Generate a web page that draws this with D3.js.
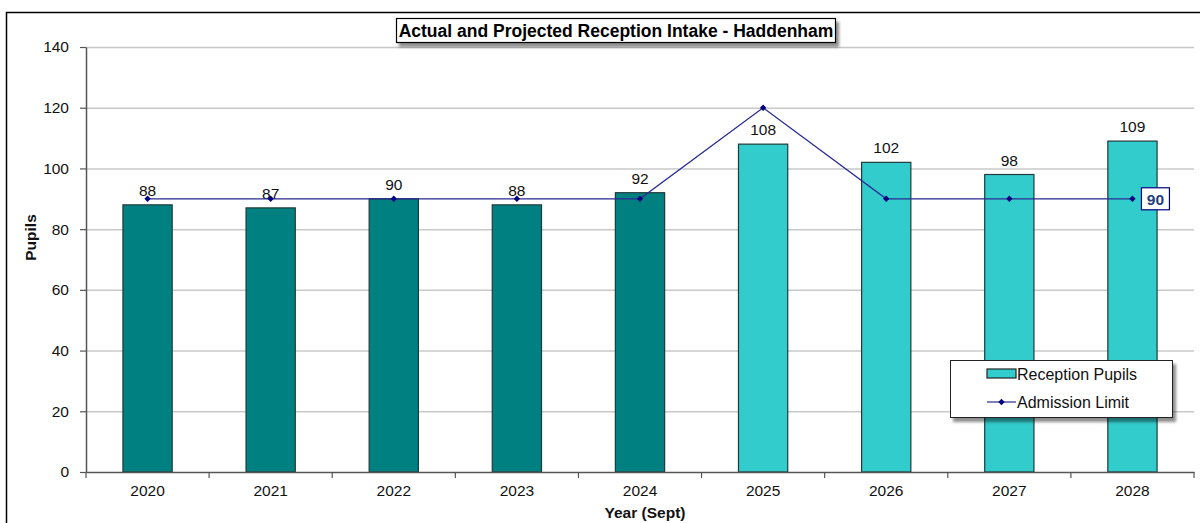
<!DOCTYPE html>
<html>
<head>
<meta charset="utf-8">
<script src="https://cdn.jsdelivr.net/npm/d3@7"></script>
<style>
  body { margin: 0; background: #fff; }
  svg { font-family: "Liberation Sans", Arial, sans-serif; }
</style>
</head>
<body>
<div id="chart"></div>
<script>
// data
const years = ["2020", "2021", "2022", "2023", "2024", "2025", "2026", "2027", "2028"];
const receptionPupils = [88, 87, 90, 88, 92, 108, 102, 98, 109];
const admissionLimit = [90, 90, 90, 90, 90, 120, 90, 90, 90];
const actualCount = 5; // first five years are actual, rest projected
const yTicks = [0, 20, 40, 60, 80, 100, 120, 140];

const W = 1200, H = 523;
const margin = {top: 47, right: 6, bottom: 51, left: 86};
const width = W - margin.left - margin.right;
const height = H - margin.top - margin.bottom;

const svg = d3.select("#chart").append("svg")
    .attr("width", W)
    .attr("height", H);

// shadow filter for title and legend boxes
const defs = svg.append("defs");
const f = defs.append("filter").attr("id", "shadow").attr("x", "-10%").attr("y", "-30%").attr("width", "130%").attr("height", "180%");
f.append("feOffset").attr("in", "SourceAlpha").attr("dx", 3).attr("dy", 4).attr("result", "off");
f.append("feGaussianBlur").attr("in", "off").attr("stdDeviation", 1.5).attr("result", "blur");
f.append("feComponentTransfer").attr("in", "blur").attr("result", "sh")
    .append("feFuncA").attr("type", "linear").attr("slope", 0.45);
const merge = f.append("feMerge");
merge.append("feMergeNode").attr("in", "sh");
merge.append("feMergeNode").attr("in", "SourceGraphic");

// outer chart frame (cut off on right and bottom)
svg.append("rect")
    .attr("x", 6.5).attr("y", 12.5)
    .attr("width", W + 10).attr("height", H + 10)
    .attr("fill", "none").attr("stroke", "#000").attr("stroke-width", 1.5);

const g = svg.append("g")
    .attr("transform", "translate(" + margin.left + "," + margin.top + ")");

const x = d3.scaleBand().domain(years).range([0, width]).paddingInner(0.6).paddingOuter(0.3);
const xOuter = d3.scaleBand().domain(years).range([0, width]);
const y = d3.scaleLinear().domain([0, 140]).range([height, 0]);

// gridlines
g.append("g")
    .selectAll("line").data(yTicks.filter(d => d > 0)).enter().append("line")
    .attr("x1", 0).attr("x2", width)
    .attr("y1", d => y(d) + 0.5).attr("y2", d => y(d) + 0.5)
    .attr("stroke", "#c8c8c8").attr("stroke-width", 1.5);

// y axis
const yAxis = g.append("g")
    .call(d3.axisLeft(y).tickValues(yTicks).tickSize(6).tickSizeOuter(0).tickPadding(11));
yAxis.select(".domain").attr("stroke", "#555").attr("stroke-width", 1.5);
yAxis.selectAll(".tick line").attr("stroke", "#555").attr("stroke-width", 1.2);
yAxis.selectAll("text").attr("font-size", 15.5).attr("fill", "#111");

// bars
g.selectAll(".bar").data(years).enter().append("rect")
    .attr("class", "bar")
    .attr("x", d => x(d))
    .attr("y", (d, i) => y(receptionPupils[i]))
    .attr("width", x.bandwidth())
    .attr("height", (d, i) => height - y(receptionPupils[i]))
    .attr("fill", (d, i) => i < actualCount ? "#008080" : "#33CCCC")
    .attr("stroke", "#1f3a3a").attr("stroke-width", 1.2);

// bar labels
g.selectAll(".barlabel").data(years).enter().append("text")
    .attr("x", d => x(d) + x.bandwidth() / 2)
    .attr("y", (d, i) => y(receptionPupils[i]) - 9)
    .attr("text-anchor", "middle")
    .attr("font-size", 15.5).attr("fill", "#111")
    .text((d, i) => receptionPupils[i]);

// x axis
const xAxis = g.append("g")
    .attr("transform", "translate(0," + height + ")")
    .call(d3.axisBottom(xOuter).tickSize(0).tickPadding(13));
xAxis.select(".domain").attr("stroke", "#555").attr("stroke-width", 1.5);
xAxis.selectAll("text").attr("font-size", 15.5).attr("fill", "#111");
// category boundary ticks
xAxis.selectAll(".bound").data(d3.range(years.length + 1)).enter().append("line")
    .attr("x1", i => i * xOuter.step()).attr("x2", i => i * xOuter.step())
    .attr("y1", 0).attr("y2", 6)
    .attr("stroke", "#555").attr("stroke-width", 1.2);

// admission limit line
const cx = i => xOuter(years[i]) + xOuter.bandwidth() / 2;
const line = d3.line().x((d, i) => cx(i)).y(d => y(d));
g.append("path").datum(admissionLimit)
    .attr("d", line)
    .attr("fill", "none").attr("stroke", "#2a2a90").attr("stroke-width", 1.2);
const diamond = d3.symbol().type(d3.symbolSquare).size(20);
g.selectAll(".marker").data(admissionLimit).enter().append("path")
    .attr("d", diamond)
    .attr("transform", (d, i) => "translate(" + cx(i) + "," + y(d) + ") rotate(45)")
    .attr("fill", "#000080");

// boxed label on last admission point
const last = admissionLimit.length - 1;
const lab = g.append("g")
    .attr("transform", "translate(" + (cx(last) + 9) + "," + y(admissionLimit[last]) + ")");
lab.append("rect").attr("x", 0).attr("y", -11).attr("width", 28).attr("height", 22)
    .attr("fill", "#fff").attr("stroke", "#000080").attr("stroke-width", 1.2);
lab.append("text").attr("x", 14).attr("y", 6).attr("text-anchor", "middle")
    .attr("font-size", 15.5).attr("font-weight", "bold").attr("fill", "#1f3f7f")
    .text(admissionLimit[last]);

// axis titles
svg.append("text")
    .attr("transform", "translate(36," + (margin.top + height / 2 - 22) + ") rotate(-90)")
    .attr("text-anchor", "middle")
    .attr("font-size", 15.5).attr("font-weight", "bold").attr("fill", "#111")
    .text("Pupils");
svg.append("text")
    .attr("x", margin.left + width / 2 + 5).attr("y", 518)
    .attr("text-anchor", "middle")
    .attr("font-size", 15.5).attr("font-weight", "bold").attr("fill", "#111")
    .text("Year (Sept)");

// title box
const title = svg.append("g").attr("filter", "url(#shadow)");
title.append("rect").attr("x", 396.5).attr("y", 18.5).attr("width", 439).attr("height", 24)
    .attr("fill", "#fff").attr("stroke", "#000").attr("stroke-width", 1.2);
svg.append("text").attr("x", 616).attr("y", 36.5)
    .attr("text-anchor", "middle")
    .attr("font-size", 17.5).attr("font-weight", "bold").attr("fill", "#000")
    .text("Actual and Projected Reception Intake - Haddenham");

// legend
const leg = svg.append("g").attr("transform", "translate(950,360)");
leg.append("rect").attr("x", 0.5).attr("y", 0.5).attr("width", 222).attr("height", 57)
    .attr("fill", "#fff").attr("stroke", "#222").attr("stroke-width", 1)
    .attr("filter", "url(#shadow)");
leg.append("rect").attr("x", 37).attr("y", 9).attr("width", 29).attr("height", 9)
    .attr("fill", "#33CCCC").attr("stroke", "#222").attr("stroke-width", 1.2);
leg.append("text").attr("x", 67).attr("y", 19.5).attr("font-size", 16).attr("fill", "#111")
    .text("Reception Pupils");
leg.append("line").attr("x1", 37).attr("x2", 66).attr("y1", 42).attr("y2", 42)
    .attr("stroke", "#2a2a90").attr("stroke-width", 1.2);
leg.append("path").attr("d", diamond)
    .attr("transform", "translate(51.5,42) rotate(45)").attr("fill", "#000080");
leg.append("text").attr("x", 67).attr("y", 47.5).attr("font-size", 16).attr("fill", "#111")
    .text("Admission Limit");
</script>
</body>
</html>
